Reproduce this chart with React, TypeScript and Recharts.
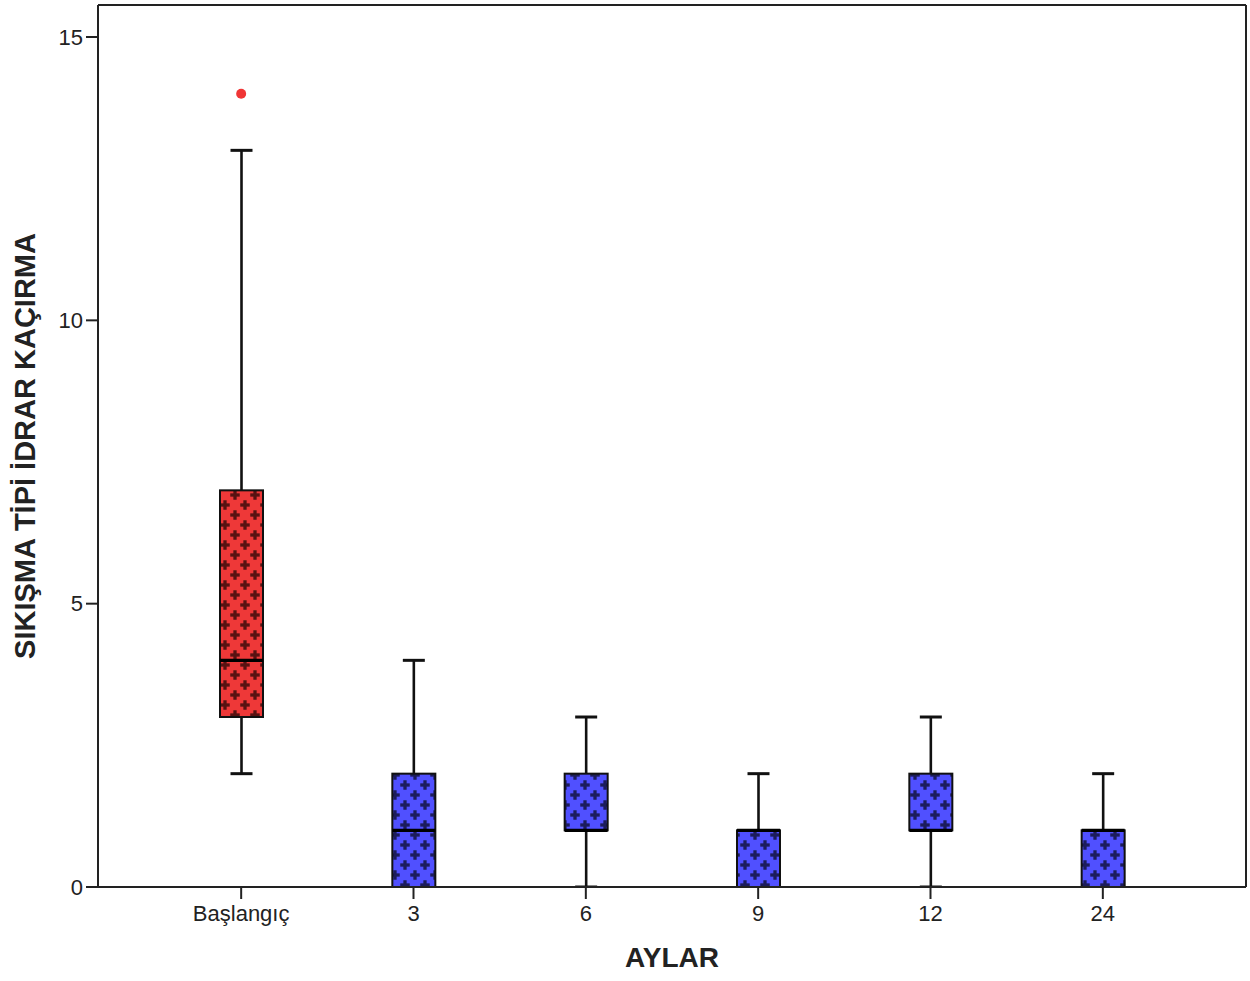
import React from 'react';
import { ComposedChart, Bar, Scatter, XAxis, YAxis } from 'recharts';

const categories = ['Başlangıç', '3', '6', '9', '12', '24'];
const whiskerLow = [2, 0, 0, 0, 0, 0];
const q1Values = [3, 0, 1, 0, 1, 0];
const medians = [4, 1, 1, 1, 1, 1];
const q3Values = [7, 2, 2, 1, 2, 1];
const whiskerHigh = [13, 4, 3, 2, 3, 2];
const outliers: (number | null)[] = [14, null, null, null, null, null];
const yTicks = [0, 5, 10, 15];
const Y_MAX = 15.565;

const xTitle = 'AYLAR';
const yTitle = 'SIKIŞMA TİPİ İDRAR KAÇIRMA';

const data = categories.map((cat, i) => ({
  cat,
  lo: whiskerLow[i],
  q1: q1Values[i],
  med: medians[i],
  q3: q3Values[i],
  hi: whiskerHigh[i],
  range: [whiskerLow[i], whiskerHigh[i]],
  outlier: outliers[i],
  group: i === 0 ? 'red' : 'blue',
}));

const INK = '#111';

const BoxShape = (props: any) => {
  const { x, y, width, height, payload } = props;
  if (x == null || y == null) return null;
  const top = Math.min(y, y + height);
  const bottom = Math.max(y, y + height);
  const unit = (bottom - top) / (payload.hi - payload.lo);
  const yOf = (v: number) => bottom - (v - payload.lo) * unit;
  const cx = x + width / 2;
  const capHalf = 11;
  const fill = payload.group === 'red' ? 'url(#patRed)' : 'url(#patBlue)';
  const boxTop = yOf(payload.q3);
  const boxBottom = yOf(payload.q1);
  return (
    <g>
      <line x1={cx} x2={cx} y1={yOf(payload.hi)} y2={yOf(payload.lo)} stroke={INK} strokeWidth={2.6} />
      <line x1={cx - capHalf} x2={cx + capHalf} y1={yOf(payload.hi)} y2={yOf(payload.hi)} stroke={INK} strokeWidth={3} />
      <line x1={cx - capHalf} x2={cx + capHalf} y1={yOf(payload.lo)} y2={yOf(payload.lo)} stroke={INK} strokeWidth={3} />
      <rect x={x} y={boxTop} width={width} height={boxBottom - boxTop} fill={fill} stroke={INK} strokeWidth={2} />
      <line x1={x} x2={x + width} y1={yOf(payload.med)} y2={yOf(payload.med)} stroke="#000" strokeWidth={3.2} />
    </g>
  );
};

const OutlierShape = (props: any) => {
  const { cx, cy, payload } = props;
  if (payload == null || payload.outlier == null || cx == null || cy == null) return null;
  return <circle cx={cx} cy={cy} r={5} fill="#f03535" />;
};

const YTitle = (props: any) => {
  const vb = props.viewBox || {};
  const cy = vb.y + vb.height / 2;
  const bx = 35;
  return (
    <text
      x={bx}
      y={cy}
      transform={`rotate(-90, ${bx}, ${cy})`}
      textAnchor="middle"
      fontFamily="Liberation Sans, Arial, sans-serif"
      fontWeight="bold"
      fontSize={29}
      fill="#222"
    >
      {yTitle}
    </text>
  );
};

const XTitle = (props: any) => {
  const vb = props.viewBox || {};
  const cx = vb.x + vb.width / 2;
  return (
    <text
      x={cx}
      y={967}
      textAnchor="middle"
      fontFamily="Liberation Sans, Arial, sans-serif"
      fontWeight="bold"
      fontSize={28}
      fill="#222"
    >
      {xTitle}
    </text>
  );
};

const Cross = ({ cx, cy, color }: { cx: number; cy: number; color: string }) => (
  <g fill={color}>
    <rect x={cx - 4.75} y={cy - 1.65} width={9.5} height={3.3} />
    <rect x={cx - 1.65} y={cy - 4.75} width={3.3} height={9.5} />
  </g>
);

const tickStyle = { fontFamily: 'Liberation Sans, Arial, sans-serif', fontSize: 22, fill: '#222' };
const frameLine = { stroke: '#222', strokeWidth: 2 };

export default function App() {
  return (
    <div style={{ position: 'absolute', left: 0, top: 0, width: 1250, height: 981, background: '#fff' }}>
      <ComposedChart
        width={1250}
        height={981}
        data={data}
        margin={{ top: 4, right: 3, bottom: 34, left: 0 }}
      >
        <defs>
          <pattern id="patRed" patternUnits="userSpaceOnUse" width={20} height={20}>
            <rect x={0} y={0} width={20} height={20} fill="#ee3838" />
            <Cross cx={5} cy={5} color="#581212" />
            <Cross cx={15} cy={15} color="#581212" />
          </pattern>
          <pattern id="patBlue" patternUnits="userSpaceOnUse" width={20} height={20}>
            <rect x={0} y={0} width={20} height={20} fill="#5050ff" />
            <Cross cx={5} cy={5} color="#1c1c5c" />
            <Cross cx={15} cy={15} color="#1c1c5c" />
          </pattern>
        </defs>
        <XAxis
          dataKey="cat"
          height={60}
          padding={{ left: 57, right: 57 }}
          tickSize={12}
          tickMargin={6}
          tick={tickStyle}
          axisLine={frameLine}
          tickLine={frameLine}
          label={<XTitle />}
        />
        <XAxis
          xAxisId="top"
          orientation="top"
          dataKey="cat"
          height={1}
          padding={{ left: 57, right: 57 }}
          tick={false}
          tickLine={false}
          axisLine={frameLine}
        />
        <YAxis
          width={98}
          domain={[0, Y_MAX]}
          ticks={yTicks}
          type="number"
          allowDataOverflow
          tickSize={12}
          tickMargin={3}
          tick={tickStyle}
          axisLine={frameLine}
          tickLine={frameLine}
          label={<YTitle />}
        />
        <YAxis
          yAxisId="right"
          orientation="right"
          width={1}
          domain={[0, Y_MAX]}
          type="number"
          allowDataOverflow
          tick={false}
          tickLine={false}
          axisLine={frameLine}
        />
        <Bar dataKey="range" barSize={43} shape={<BoxShape />} isAnimationActive={false} />
        <Scatter
          xAxisId="top"
          yAxisId="right"
          dataKey="outlier"
          shape={<OutlierShape />}
          isAnimationActive={false}
        />
      </ComposedChart>
    </div>
  );
}
